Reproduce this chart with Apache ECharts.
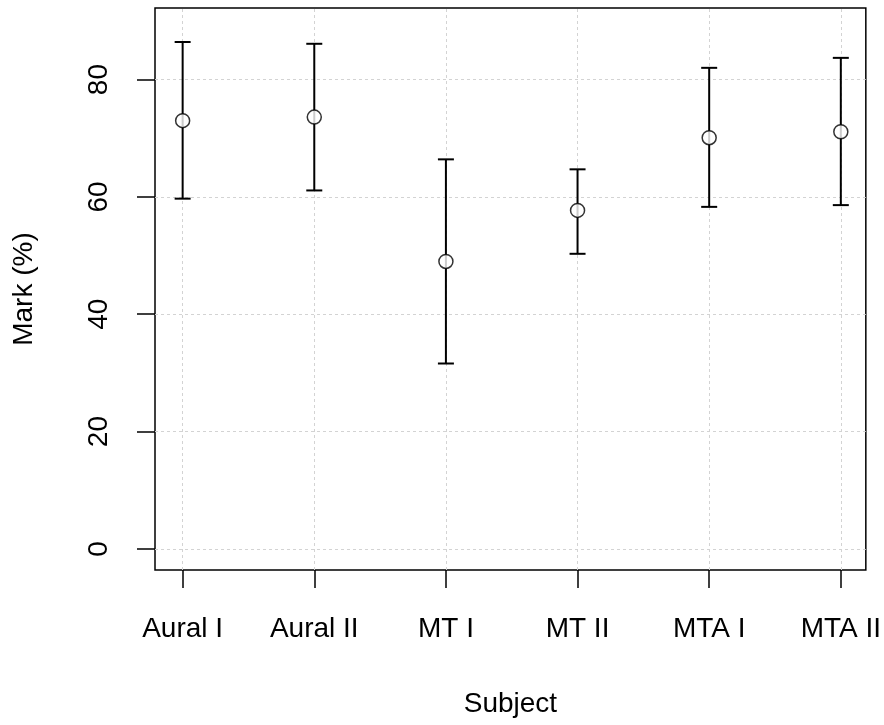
<!DOCTYPE html>
<html>
<head>
<meta charset="utf-8">
<script src="https://cdn.jsdelivr.net/npm/echarts@6/dist/echarts.min.js"></script>
<style>
  html, body { margin: 0; padding: 0; background: #fff; }
  #chart { width: 884px; height: 725px; }
</style>
</head>
<body>
<div id="chart"></div>
<script>
// Mean mark per subject with its interval bounds
const subjects = ['Aural I', 'Aural II', 'MT I', 'MT II', 'MTA I', 'MTA II'];
const meanMark = [73.0, 73.6, 49.0, 57.7, 70.1, 71.1];
const lowerMark = [59.7, 61.1, 31.6, 50.3, 58.3, 58.6];
const upperMark = [86.4, 86.1, 66.4, 64.7, 82.0, 83.7];
const yTicks = [0, 20, 40, 60, 80];

const positions = subjects.map((_, i) => i + 1);
const FONT = "'Liberation Sans', Arial, sans-serif";

const gridStyle = { color: '#d3d3d3', width: 1, type: [3, 3] };

const chart = echarts.init(document.getElementById('chart'));
chart.setOption({
  backgroundColor: '#fff',
  animation: false,
  grid: {
    left: 155, right: 17, top: 8, bottom: 155,
    show: true, borderColor: '#000', borderWidth: 1.5, backgroundColor: 'transparent'
  },
  xAxis: {
    type: 'value', min: 0.79, max: 6.19, position: 'bottom',
    name: 'Subject', nameLocation: 'middle', nameGap: 120,
    nameTextStyle: { fontFamily: FONT, fontSize: 28, color: '#000' },
    axisLine: { show: false, onZero: false },
    splitLine: { show: false },
    axisTick: { show: true, inside: false, length: 18, customValues: positions,
                lineStyle: { color: '#000', width: 1.5 } },
    axisLabel: {
      customValues: positions, margin: 45,
      fontFamily: FONT, fontSize: 28, color: '#000',
      formatter: v => subjects[Math.round(v) - 1] || ''
    }
  },
  yAxis: {
    type: 'value', min: -3.6, max: 92.2, position: 'left',
    name: 'Mark (%)', nameLocation: 'middle', nameGap: 117, nameRotate: 90,
    nameTextStyle: { fontFamily: FONT, fontSize: 28, color: '#000' },
    axisLine: { show: false, onZero: false },
    splitLine: { show: false },
    axisTick: { show: true, inside: false, length: 18, customValues: yTicks,
                lineStyle: { color: '#000', width: 1.5 } },
    axisLabel: {
      customValues: yTicks, rotate: 90, margin: 42,
      fontFamily: FONT, fontSize: 28, color: '#000'
    }
  },
  series: [
    {
      // dotted reference grid, kept beneath the marks
      type: 'line', data: [], silent: true, z: 1,
      markLine: {
        silent: true, z: 1, symbol: ['none', 'none'], label: { show: false },
        lineStyle: gridStyle,
        data: positions.map(x => ({ xAxis: x }))
          .concat(yTicks.map(y => ({ yAxis: y })))
      }
    },
    {
      // interval bars with end caps
      type: 'custom',
      data: positions.map((x, i) => [x, lowerMark[i], upperMark[i]]),
      renderItem: function (params, api) {
        const x = api.value(0);
        const lo = api.coord([x, api.value(1)]);
        const hi = api.coord([x, api.value(2)]);
        const cap = 8;
        const style = { stroke: '#000', lineWidth: 2 };
        return {
          type: 'group',
          children: [
            { type: 'line', shape: { x1: lo[0], y1: lo[1], x2: hi[0], y2: hi[1] }, style: style },
            { type: 'line', shape: { x1: lo[0] - cap, y1: lo[1], x2: lo[0] + cap, y2: lo[1] }, style: style },
            { type: 'line', shape: { x1: hi[0] - cap, y1: hi[1], x2: hi[0] + cap, y2: hi[1] }, style: style }
          ]
        };
      },
      z: 6
    },
    {
      type: 'scatter',
      data: positions.map((x, i) => [x, meanMark[i]]),
      symbol: 'circle', symbolSize: 14,
      itemStyle: { color: '#fff', borderColor: '#000', borderWidth: 1.5 },
      z: 7
    }
  ]
});
</script>
</body>
</html>
